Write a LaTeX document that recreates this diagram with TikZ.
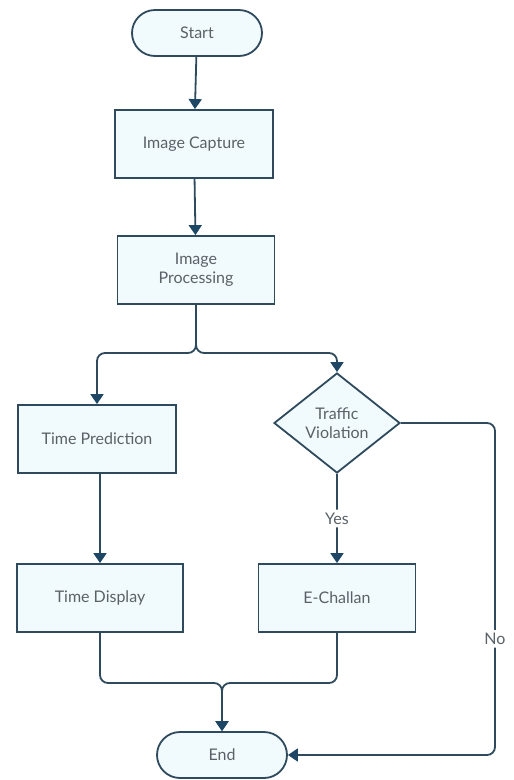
\documentclass[tikz,border=0pt]{standalone}
\usepackage{fontspec}
\setmainfont{Lato}
\usetikzlibrary{shapes.geometric,shapes.misc,arrows.meta}
\definecolor{edge}{HTML}{2E4A5C}
\definecolor{tip}{HTML}{1E4766}
\definecolor{boxfill}{HTML}{F1FAFD}
\definecolor{label}{HTML}{5A6267}
\tikzset{
  x=1pt, y=-1pt,
  base/.style={draw=edge, line width=1.8pt, fill=boxfill, text=label,
    font=\fontsize{16}{19}\selectfont, align=center, inner sep=0pt},
  terminal/.style={base, rounded rectangle, minimum width=130pt, minimum height=46pt},
  process/.style={base, rectangle, minimum width=157pt, minimum height=68pt},
  decision/.style={base, diamond, minimum width=126pt, minimum height=100pt, inner sep=0pt},
  link/.style={draw=edge, line width=1.8pt, rounded corners=8pt},
  flow/.style={link, -{Triangle[length=10pt,width=13pt,fill=tip,color=tip]}},
  tag/.style={fill=white, text=label, font=\fontsize{16}{19}\selectfont, inner sep=3pt}
}
\begin{document}
\begin{tikzpicture}
\useasboundingbox (0,0) rectangle (514,780);
\fill[white] (0,0) rectangle (514,780);

% nodes
\node[terminal] (start) at (197,33) {Start};
\node[process, minimum width=158pt] (capture) at (194,144) {Image Capture};
\node[process] (proc) at (196,270) {Image\\Processing};
\node[process, minimum width=158pt] (pred) at (97,439) {Time Prediction};
\node[decision] (viol) at (337,423) {Traffic\\Violation};
\node[process, minimum width=166pt] (disp) at (100,598) {Time Display};
\node[process] (chal) at (337,598) {E-Challan};
\node[terminal] (end) at (222,755) {End};

% junction points
\coordinate (split) at (196,353);
\coordinate (merge) at (222,683);

% connectors
\draw[flow] (start) -- (capture);
\draw[flow] (capture) -- (proc);
\draw[flow] (proc.south) -- (split) -| (pred.north);
\draw[flow] (proc.south) -- (split) -| (viol.north);
\draw[flow] (viol.south) -- node[tag, pos=0.5] {Yes} (chal.north);
\draw[flow] (pred.south -| disp.north) -- (disp.north);
\draw[flow] (disp.south) |- (merge) -- (end.north);
\draw[flow] (chal.south) |- (merge) -- (end.north);
\draw[flow] (viol.east) -- (495,423) -- node[tag, pos=0.65] {No} (495,755) -- (end.east);
\end{tikzpicture}
\end{document}
